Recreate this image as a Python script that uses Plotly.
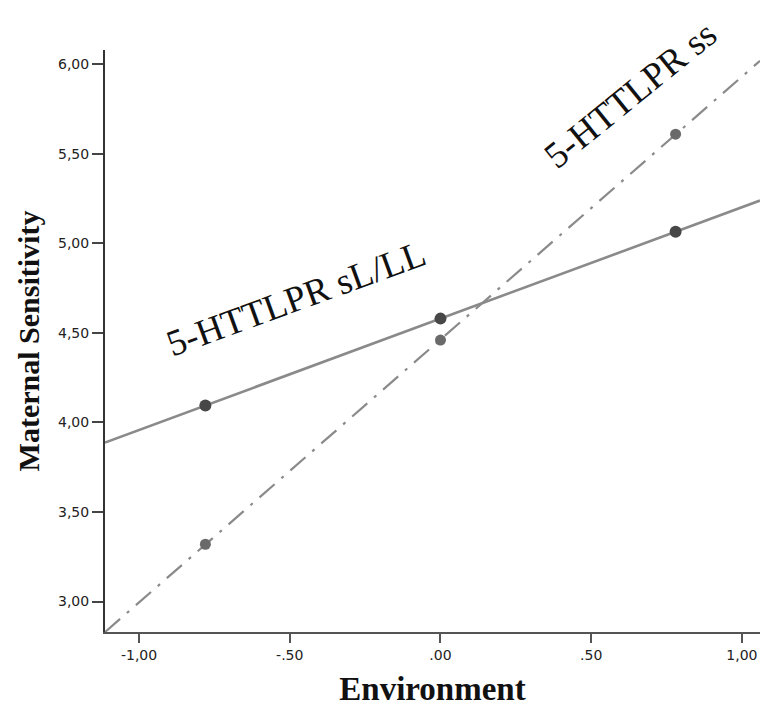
import numpy as np
import plotly.graph_objects as go

# Data
env_points = [-0.78, 0.0, 0.78]
sl_ll_values = [4.095, 4.58, 5.065]
ss_values = [3.32, 4.46, 5.61]

x_range = [-1.113, 1.06]
y_range = [2.83, 6.08]

y_ticks = [3.0, 3.5, 4.0, 4.5, 5.0, 5.5, 6.0]
y_ticklabels = ["3,00", "3,50", "4,00", "4,50", "5,00", "5,50", "6,00"]
x_ticks = [-1.0, -0.5, 0.0, 0.5, 1.0]
x_ticklabels = ["-1,00", "-.50", ".00", ".50", "1,00"]

group_labels = ["5-HTTLPR sL/LL", "5-HTTLPR ss"]

def fit_line(xs, ys):
    slope, intercept = np.polyfit(xs, ys, 1)
    lx = np.array(x_range)
    return lx, slope * lx + intercept

fig = go.Figure()

lx, ly = fit_line(env_points, sl_ll_values)
fig.add_trace(go.Scatter(x=lx, y=ly, mode="lines",
                         line=dict(color="#8a8a8a", width=2.6),
                         showlegend=False, hoverinfo="skip"))
lx2, ly2 = fit_line(env_points, ss_values)
fig.add_trace(go.Scatter(x=lx2, y=ly2, mode="lines",
                         line=dict(color="#8a8a8a", width=2.2, dash="20px,9px,3px,9px"),
                         showlegend=False, hoverinfo="skip"))

fig.add_trace(go.Scatter(x=env_points, y=sl_ll_values, mode="markers",
                         marker=dict(color="#474747", size=12),
                         showlegend=False))
fig.add_trace(go.Scatter(x=env_points, y=ss_values, mode="markers",
                         marker=dict(color="#6a6a6a", size=11),
                         showlegend=False))

fig.add_annotation(x=-0.48, y=4.69, text=group_labels[0], showarrow=False,
                   textangle=-20, font=dict(family="Liberation Serif", size=37, color="#111"))
fig.add_annotation(x=0.63, y=5.83, text=group_labels[1], showarrow=False,
                   textangle=-39, font=dict(family="Liberation Serif", size=37, color="#111"))

fig.update_layout(
    width=760, height=707,
    margin=dict(l=105, r=0, t=50, b=75),
    paper_bgcolor="white", plot_bgcolor="white",
    xaxis=dict(range=x_range, tickvals=x_ticks, ticktext=x_ticklabels,
               showgrid=False, zeroline=False, showline=True, linecolor="#555", linewidth=2,
               ticks="outside", ticklen=9, tickwidth=1.5, tickcolor="#555",
               tickfont=dict(family="DejaVu Sans", size=14, color="#222"),
               title=dict(text="<b>Environment</b>", standoff=20,
                          font=dict(family="Liberation Serif", size=33, color="#111"))),
    yaxis=dict(range=y_range, tickvals=y_ticks, ticktext=y_ticklabels,
               showgrid=False, zeroline=False, showline=True, linecolor="#333", linewidth=2,
               ticks="outside", ticklen=11, tickwidth=1.5, tickcolor="#444",
               tickfont=dict(family="DejaVu Sans", size=14, color="#222"),
               title=dict(text="<b>Maternal Sensitivity</b>", standoff=10,
                          font=dict(family="Liberation Serif", size=30, color="#111"))),
)

fig.write_html("out.html", config={"displayModeBar": False},
               post_script="document.body.style.margin='0';document.body.style.overflow='hidden';")
